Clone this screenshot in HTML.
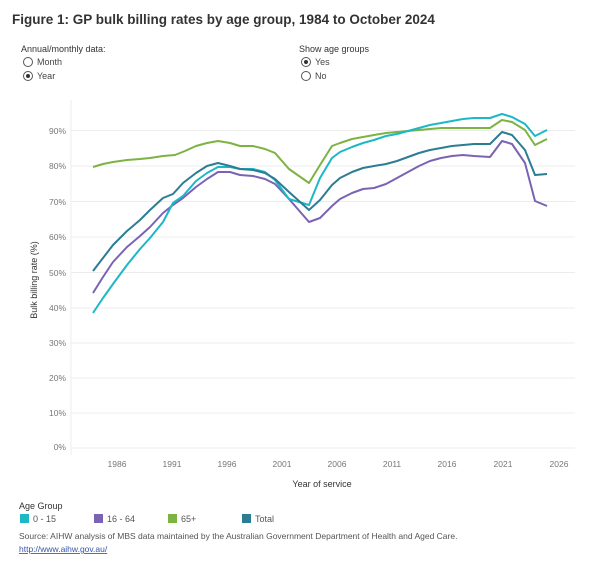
<!DOCTYPE html>
<html><head><meta charset="utf-8"><style>
body{margin:0;background:#fff;width:601px;height:559px;overflow:hidden;font-family:"Liberation Sans",sans-serif;}
svg text{font-family:"Liberation Sans",sans-serif;}
</style></head><body>
<svg width="601" height="559" viewBox="0 0 601 559" xmlns="http://www.w3.org/2000/svg">
<text x="12" y="24" font-size="13.5" font-weight="bold" fill="#333">Figure 1: GP bulk billing rates by age group, 1984 to October 2024</text>
<text x="21" y="52" font-size="9" fill="#333">Annual/monthly data:</text>
<circle cx="28" cy="62" r="4.5" fill="none" stroke="#555"/><text x="37" y="65" font-size="9" fill="#444">Month</text>
<circle cx="28" cy="76" r="4.5" fill="none" stroke="#555"/><circle cx="28" cy="76" r="2" fill="#333"/><text x="37" y="79" font-size="9" fill="#444">Year</text>
<text x="299" y="52" font-size="9" fill="#333">Show age groups</text>
<circle cx="306" cy="62" r="4.5" fill="none" stroke="#555"/><circle cx="306" cy="62" r="2" fill="#333"/><text x="315" y="65" font-size="9" fill="#444">Yes</text>
<circle cx="306" cy="76" r="4.5" fill="none" stroke="#555"/><text x="315" y="79" font-size="9" fill="#444">No</text>
<g stroke="#ececec" stroke-width="1">
<line x1="71" x2="575" y1="130.5" y2="130.5"/><line x1="71" x2="575" y1="166" y2="166"/><line x1="71" x2="575" y1="201.5" y2="201.5"/><line x1="71" x2="575" y1="237" y2="237"/><line x1="71" x2="575" y1="272.5" y2="272.5"/><line x1="71" x2="575" y1="308" y2="308"/><line x1="71" x2="575" y1="343" y2="343"/><line x1="71" x2="575" y1="378" y2="378"/><line x1="71" x2="575" y1="413" y2="413"/><line x1="71" x2="575" y1="448" y2="448"/>
<line x1="71" x2="71" y1="100" y2="455"/>
</g>
<g font-size="8.5" fill="#777" text-anchor="end">
<text x="66" y="134">90%</text><text x="66" y="169">80%</text><text x="66" y="205">70%</text><text x="66" y="240">60%</text><text x="66" y="276">50%</text><text x="66" y="311">40%</text><text x="66" y="346">30%</text><text x="66" y="381">20%</text><text x="66" y="416">10%</text><text x="66" y="450">0%</text>
</g>
<g font-size="8.5" fill="#777" text-anchor="middle">
<text x="117" y="467">1986</text><text x="172" y="467">1991</text><text x="227" y="467">1996</text><text x="282" y="467">2001</text><text x="337" y="467">2006</text><text x="392" y="467">2011</text><text x="447" y="467">2016</text><text x="503" y="467">2021</text><text x="559" y="467">2026</text>
</g>
<text x="322" y="487" font-size="9" fill="#333" text-anchor="middle">Year of service</text>
<text transform="translate(37,280) rotate(-90)" font-size="9" fill="#333" text-anchor="middle">Bulk billing rate (%)</text>
<g fill="none" stroke-width="2" stroke-linejoin="round">
<polyline stroke="#7cb342" points="93,167 103,164 113,162 127,160 140,159 150,158 163,156 175,155 185,151 196,146 207,143 218,141 230,143 240,146 253,146 265,149 275,153 289,169 309,183 320,165 332,146 340,143 352,139 363,137 374,135 386,133 397,132 408,131 419,130 430,129 441,128 452,128 463,128 474,128 490,128 502,120 512,122 525,130 535,145 547,139"/>
<polyline stroke="#7a63b3" points="93,293 103,277 113,262 127,247 140,236 150,227 163,213 173,205 183,198 196,187 207,179 218,172 230,172 240,175 253,176 265,179 275,184 289,199 309,222 320,218 332,206 340,199 352,193 363,189 374,188 386,184 397,178 408,172 419,166 430,161 441,158 452,156 463,155 474,156 490,157 502,141 512,144 525,163 535,201 547,206"/>
<polyline stroke="#1cb8c6" points="93,313 103,298 113,284 127,265 140,249 150,238 163,222 173,203 183,196 196,181 207,173 218,167 230,167 240,169 253,169 265,172 275,180 289,199 309,205 320,178 332,158 340,152 352,147 363,143 374,140 386,136 397,134 408,131 419,128 430,125 441,123 452,121 463,119 474,118 490,118 502,114 512,117 525,124 535,136 547,130"/>
<polyline stroke="#2c7c93" points="93,271 103,258 113,245 127,231 140,220 150,210 163,198 173,194 183,183 196,173 207,166 218,163 230,166 240,169 253,170 265,173 275,179 289,192 309,210 320,200 332,185 340,178 352,172 363,168 374,166 386,164 397,161 408,157 419,153 430,150 441,148 452,146 463,145 474,144 490,144 502,132 512,135 525,150 535,175 547,174"/>
</g>
<text x="19" y="509" font-size="9" fill="#333">Age Group</text>
<rect x="20" y="514" width="9" height="9" fill="#1cb8c6"/><text x="33" y="522" font-size="9" fill="#555">0 - 15</text>
<rect x="94" y="514" width="9" height="9" fill="#7a63b3"/><text x="107" y="522" font-size="9" fill="#555">16 - 64</text>
<rect x="168" y="514" width="9" height="9" fill="#7cb342"/><text x="181" y="522" font-size="9" fill="#555">65+</text>
<rect x="242" y="514" width="9" height="9" fill="#2c7c93"/><text x="255" y="522" font-size="9" fill="#555">Total</text>
<text x="19" y="539" font-size="8.5" fill="#555">Source: AIHW analysis of MBS data maintained by the Australian Government Department of Health and Aged Care.</text>
<text x="19" y="552" font-size="8.5" fill="#3355aa" text-decoration="underline">http://www.aihw.gov.au/</text>
</svg>
</body></html>
